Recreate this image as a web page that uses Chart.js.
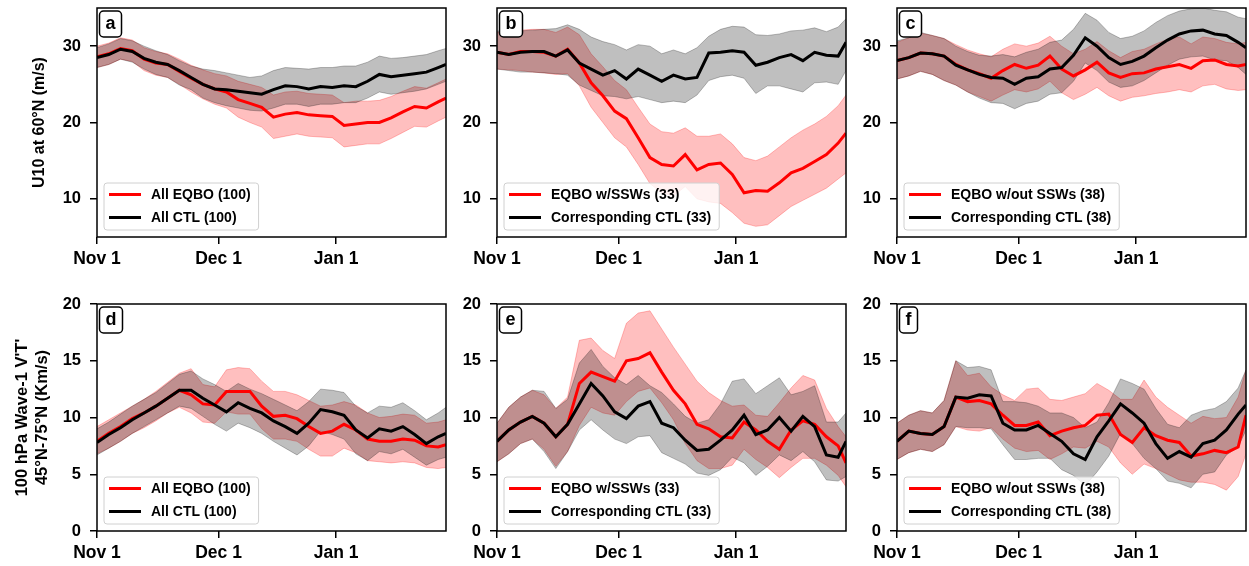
<!DOCTYPE html>
<html>
<head>
<meta charset="utf-8">
<script src="https://cdn.jsdelivr.net/npm/chart.js@4.4.1/dist/chart.umd.min.js"></script>
<style>
html, body { margin: 0; padding: 0; background: #fff; overflow: hidden; }
#fig { position: relative; width: 1249px; height: 566px; overflow: hidden; }
#fig canvas { position: absolute; }
</style>
</head>
<body>
<div id="fig"></div>
<script>
// day index from Nov 1
const days = [0,3,6,9,12,15,18,21,24,27,30,33,36,39,42,45,48,51,54,57,60,63,66,69,72,75,78,81,84,87,89];
const tickDays = [0, 31, 61];
const tickLabels = ['Nov 1', 'Dec 1', 'Jan 1'];

// a: U10, all members
const aEqbo   = [28.6,29.0,29.7,29.4,28.3,27.8,27.6,26.7,25.8,25.0,24.4,24.0,23.0,22.5,22.0,20.7,21.1,21.3,21.0,20.9,20.8,19.6,19.8,20.0,20.0,20.6,21.4,22.1,21.9,22.7,23.2];
const aEqboHi = [30.0,30.4,31.1,30.8,29.8,29.3,29.0,28.3,27.5,26.9,26.4,26.1,25.4,25.0,24.6,23.6,24.0,24.1,23.8,23.7,23.6,22.6,22.8,22.8,22.9,23.4,24.1,24.7,24.5,25.2,25.7];
const aEqboLo = [27.2,27.6,28.3,28.0,26.8,26.2,25.9,25.0,24.0,23.1,22.4,21.9,20.7,20.0,19.4,17.9,18.2,18.5,18.2,18.1,18.0,16.8,17.0,17.2,17.2,17.9,18.7,19.5,19.4,20.2,20.7];
const aCtl    = [28.5,28.9,29.6,29.3,28.4,27.9,27.6,26.8,25.9,25.0,24.4,24.3,24.1,23.9,23.7,24.3,24.8,24.7,24.4,24.7,24.6,24.8,24.7,25.4,26.3,26.0,26.2,26.4,26.6,27.2,27.6];
const aCtlHi  = [29.8,30.3,31.0,30.7,30.0,29.4,28.9,28.1,27.4,27.0,26.8,26.5,26.2,25.9,26.1,26.8,27.2,27.1,27.0,27.2,27.2,27.4,27.4,27.9,28.7,28.4,28.5,28.7,28.9,29.4,29.7];
const aCtlLo  = [27.2,27.6,28.3,27.9,27.0,26.3,25.9,24.9,24.3,23.2,22.6,22.2,21.9,21.6,21.5,21.9,22.4,22.4,22.1,22.4,22.4,22.6,22.6,23.2,24.0,23.7,23.9,24.1,24.4,25.0,25.4];

// b: U10, with SSWs
const bEqbo   = [29.2,28.9,29.3,29.3,29.2,28.7,29.6,27.8,25.2,23.5,21.5,20.5,18.0,15.4,14.5,14.3,15.8,13.8,14.5,14.7,13.2,10.8,11.1,11.0,12.1,13.4,14.0,14.9,15.8,17.3,18.6];
const bEqboHi = [31.8,32.0,32.1,32.2,32.2,31.8,32.5,31.5,29.0,27.3,25.5,24.3,22.0,19.8,18.8,18.6,19.3,18.2,18.2,18.5,17.2,15.4,15.0,15.6,16.8,18.0,19.0,19.8,20.8,22.2,23.6];
const bEqboLo = [27.0,26.9,26.8,26.6,26.5,26.3,26.4,24.8,22.0,20.0,18.0,16.8,14.5,12.0,10.8,10.4,11.6,10.0,9.6,9.4,8.2,6.8,6.4,6.6,7.8,9.0,9.8,10.6,11.4,12.6,13.4];
const bCtl    = [29.2,28.9,29.2,29.3,29.3,28.7,29.5,27.8,27.0,26.2,26.8,25.7,27.0,26.2,25.4,26.2,25.7,25.9,29.1,29.2,29.4,29.2,27.5,27.9,28.5,28.9,28.1,29.2,28.8,28.7,30.5];
const bCtlHi  = [32.0,32.0,32.0,32.1,32.2,32.3,32.8,32.2,31.2,30.6,30.2,29.5,30.2,30.0,29.0,29.5,29.0,29.8,31.3,32.2,32.6,32.5,31.5,31.4,31.6,32.0,32.1,32.4,31.9,32.5,33.6];
const bCtlLo  = [27.0,26.8,26.6,26.6,26.5,26.4,26.2,24.9,24.2,23.5,23.4,23.1,23.4,23.0,22.6,22.8,22.6,23.6,25.5,26.0,26.2,25.8,23.8,24.8,24.8,24.4,24.0,25.2,25.3,25.0,26.8];

// c: U10, without SSWs
const cEqbo   = [28.1,28.5,29.1,29.0,28.7,27.6,26.9,26.4,25.8,26.8,27.6,27.1,27.5,28.7,27.0,26.1,26.9,27.9,26.5,25.9,26.4,26.5,27.0,27.3,27.6,27.1,28.1,28.2,27.6,27.4,27.6];
const cEqboHi = [30.5,31.1,31.7,31.4,31.0,30.2,29.5,29.0,28.6,29.6,30.3,30.0,30.4,31.3,30.0,29.0,29.6,30.6,29.4,28.5,29.3,29.6,30.3,30.9,31.2,30.3,31.2,31.0,30.5,30.3,30.5];
const cEqboLo = [25.7,26.1,26.7,26.3,25.5,24.9,24.0,23.4,22.8,23.6,24.3,24.0,24.4,25.4,23.9,23.0,23.7,24.6,23.5,22.8,23.3,23.5,23.8,24.0,24.3,24.0,24.8,25.0,24.4,24.2,24.3];
const cCtl    = [28.1,28.5,29.1,29.0,28.7,27.5,26.9,26.3,25.9,25.8,25.0,25.8,26.0,27.0,27.2,28.8,31.1,30.0,28.5,27.6,28.0,28.7,29.8,30.8,31.6,32.0,32.1,31.6,31.4,30.5,29.8];
const cCtlHi  = [30.7,31.1,31.8,31.4,31.0,30.0,29.3,28.8,28.7,28.9,28.6,29.2,29.6,30.5,30.8,32.2,34.3,33.4,31.8,31.0,31.3,32.0,33.1,34.0,34.6,34.9,35.0,34.7,34.5,33.8,33.6];
const cCtlLo  = [25.7,26.1,26.7,26.3,25.5,24.9,24.0,23.2,22.6,22.5,21.8,22.5,22.8,23.7,23.9,25.4,27.8,26.8,25.3,24.6,24.8,25.5,26.5,27.5,28.3,28.6,28.7,28.2,28.1,27.2,26.3];

// d: wave-1 heat flux, all members
const dEqbo   = [7.9,8.6,9.2,9.9,10.4,11.0,11.7,12.4,12.0,11.2,11.1,12.3,12.3,12.3,11.0,10.1,10.2,9.9,9.2,8.6,8.8,9.4,8.9,8.1,7.9,7.9,8.1,8.0,7.5,7.4,7.6];
const dEqboHi = [9.2,9.8,10.4,11.0,11.6,12.3,13.1,13.9,14.3,12.9,12.7,14.2,14.4,14.3,13.2,12.3,12.3,12.0,11.5,11.0,11.1,11.4,11.1,10.4,10.0,10.1,10.3,10.2,9.5,9.6,9.8];
const dEqboLo = [6.8,7.3,7.9,8.6,9.1,9.7,10.4,10.9,10.4,9.6,9.5,10.5,10.3,10.3,9.0,8.1,8.1,7.9,7.2,6.6,6.6,7.3,6.9,6.2,6.1,6.0,6.1,6.0,5.6,5.5,5.6];
const dCtl    = [7.8,8.5,9.1,9.8,10.4,11.0,11.7,12.4,12.4,11.7,11.1,10.5,11.3,10.8,10.4,9.7,9.2,8.6,9.5,10.7,10.5,10.2,8.9,8.2,9.0,8.8,9.2,8.5,7.7,8.3,8.6];
const dCtlHi  = [9.0,9.6,10.3,11.0,11.6,12.2,13.0,13.8,14.1,13.4,12.9,12.3,13.0,12.5,12.1,11.6,11.1,10.6,11.4,12.5,12.4,12.2,11.0,10.4,11.0,10.9,11.3,10.6,9.8,10.4,10.9];
const dCtlLo  = [6.7,7.3,7.9,8.6,9.2,9.8,10.4,11.0,10.8,10.1,9.4,8.8,9.5,9.1,8.6,7.9,7.3,6.7,7.5,8.8,8.5,8.1,6.8,6.2,7.0,6.8,7.2,6.5,5.8,6.3,6.5];

// e: wave-1 heat flux, with SSWs
const eEqbo   = [7.9,8.9,9.6,10.1,9.5,8.3,9.4,13.0,14.0,13.6,13.2,15.0,15.2,15.7,14.0,12.4,11.2,9.4,9.0,8.3,8.2,9.6,8.9,7.9,7.2,8.9,9.7,9.4,8.3,7.5,6.0];
const eEqboHi = [9.5,10.9,11.8,12.4,12.0,10.8,11.8,16.8,17.0,15.9,15.2,18.3,19.2,19.4,17.8,16.2,14.7,13.2,12.2,11.5,11.0,11.1,10.2,10.1,11.3,12.6,13.7,13.3,10.8,9.2,8.3];
const eEqboLo = [6.1,6.8,7.7,8.1,7.2,5.7,7.0,9.3,10.9,10.4,10.2,11.4,12.3,12.6,11.3,9.8,7.7,6.2,5.5,5.5,5.8,7.2,6.3,5.6,4.7,5.6,6.4,6.4,5.8,4.9,3.9];
const eCtl    = [7.9,8.9,9.6,10.1,9.5,8.3,9.4,11.2,13.0,11.9,10.5,9.9,11.0,11.4,9.5,9.1,8.0,7.1,7.2,8.0,8.9,10.2,8.5,8.9,10.0,8.8,10.1,9.2,6.7,6.5,7.9];
const eCtlHi  = [9.5,10.9,11.8,12.4,12.3,10.8,11.6,14.8,16.0,14.5,13.5,12.9,13.7,12.8,12.2,11.2,10.1,9.5,9.8,11.2,13.2,13.4,12.1,12.8,13.5,12.0,12.3,12.8,9.6,9.6,10.4];
const eCtlLo  = [6.1,6.8,7.7,8.1,7.0,5.5,7.0,8.9,9.8,8.9,8.1,7.7,8.3,8.4,6.9,6.4,5.9,5.1,4.9,5.4,6.5,6.0,4.9,5.7,6.7,6.2,7.0,6.1,4.5,4.4,4.8];

// f: wave-1 heat flux, without SSWs
const fEqbo   = [7.9,8.8,8.6,8.5,9.2,11.8,11.4,11.5,11.2,10.2,9.3,9.3,9.6,8.4,8.8,9.1,9.3,10.2,10.3,8.5,7.8,9.1,8.4,8.0,7.8,6.6,6.8,7.1,6.9,7.4,10.2];
const fEqboHi = [9.5,10.2,10.6,10.4,11.5,15.0,13.7,13.9,12.7,12.0,11.5,12.5,12.6,11.6,11.5,11.8,12.1,13.0,12.4,11.6,11.6,13.3,11.8,10.9,10.2,9.5,10.1,9.9,10.0,11.8,14.2];
const fEqboLo = [6.3,6.9,7.2,7.0,7.6,9.2,8.9,8.8,9.1,8.1,7.3,7.0,7.1,6.3,6.8,7.4,7.3,7.9,7.4,6.0,5.0,5.9,5.5,5.0,4.5,4.3,4.3,4.1,3.6,4.8,6.8];
const fCtl    = [7.9,8.8,8.6,8.5,9.2,11.8,11.7,12.0,11.9,9.5,8.9,8.9,9.3,8.6,7.9,6.8,6.3,8.3,9.7,11.2,10.4,9.5,7.7,6.4,7.0,6.5,7.7,8.0,8.9,10.3,11.1];
const fCtlHi  = [9.5,10.2,10.6,10.4,11.5,15.0,14.4,14.5,14.2,11.4,11.4,11.3,11.0,10.4,10.4,10.0,9.1,9.6,11.3,13.4,13.0,12.5,10.8,9.4,9.1,10.2,10.6,10.8,11.4,12.6,14.2];
const fCtlLo  = [6.3,6.9,7.2,7.0,7.6,9.2,9.1,9.1,9.0,7.6,6.3,6.3,6.4,6.4,5.4,4.9,4.0,5.2,6.6,8.6,7.7,6.4,5.5,4.4,4.2,3.8,5.0,5.2,6.7,7.4,8.9];

const legendAll  = ['All EQBO (100)', 'All CTL (100)'];
const legendSSW  = ['EQBO w/SSWs (33)', 'Corresponding CTL (33)'];
const legendNoSSW = ['EQBO w/out SSWs (38)', 'Corresponding CTL (38)'];
const u10Ticks = [10, 20, 30];
const fluxTicks = [0, 5, 10, 15, 20];

const panels = [
  {letter: 'a', row: 0, col: 0, eqbo: [aEqbo, aEqboHi, aEqboLo], ctl: [aCtl, aCtlHi, aCtlLo], legend: legendAll},
  {letter: 'b', row: 0, col: 1, eqbo: [bEqbo, bEqboHi, bEqboLo], ctl: [bCtl, bCtlHi, bCtlLo], legend: legendSSW},
  {letter: 'c', row: 0, col: 2, eqbo: [cEqbo, cEqboHi, cEqboLo], ctl: [cCtl, cCtlHi, cCtlLo], legend: legendNoSSW},
  {letter: 'd', row: 1, col: 0, eqbo: [dEqbo, dEqboHi, dEqboLo], ctl: [dCtl, dCtlHi, dCtlLo], legend: legendAll},
  {letter: 'e', row: 1, col: 1, eqbo: [eEqbo, eEqboHi, eEqboLo], ctl: [eCtl, eCtlHi, eCtlLo], legend: legendSSW},
  {letter: 'f', row: 1, col: 2, eqbo: [fEqbo, fEqboHi, fEqboLo], ctl: [fCtl, fCtlHi, fCtlLo], legend: legendNoSSW}
];

// layout
const colLeft = [97, 497, 897];
const plotW = 349;
const rowTop = [8, 304];
const rowH = [229, 227];
const PAD_TOP = 30;
const FONT = "'Liberation Sans', Arial, sans-serif";

Chart.defaults.font.family = FONT;
Chart.defaults.font.weight = 'bold';
Chart.defaults.color = '#000';

function pts(arr) {
  return arr.map((v, i) => ({x: days[i], y: v}));
}

function roundRect(ctx, x, y, w, h, r) {
  ctx.beginPath();
  ctx.moveTo(x + r, y);
  ctx.lineTo(x + w - r, y);
  ctx.arcTo(x + w, y, x + w, y + r, r);
  ctx.lineTo(x + w, y + h - r);
  ctx.arcTo(x + w, y + h, x + w - r, y + h, r);
  ctx.lineTo(x + r, y + h);
  ctx.arcTo(x, y + h, x, y + h - r, r);
  ctx.lineTo(x, y + r);
  ctx.arcTo(x, y, x + r, y, r);
  ctx.closePath();
}

// frame, panel letter and legend box
const panelDeco = {
  id: 'panelDeco',
  afterDraw(chart, args, opts) {
    const ctx = chart.ctx;
    const a = chart.chartArea;
    ctx.save();
    ctx.strokeStyle = '#000';
    ctx.lineWidth = 1.5;
    ctx.strokeRect(a.left, a.top, a.right - a.left, a.bottom - a.top);

    // letter
    ctx.font = 'bold 18px ' + FONT;
    const lw = ctx.measureText(opts.letter).width;
    const bw = lw + 12, bx = a.left + 2.5, by = a.top + 3;
    roundRect(ctx, bx, by, bw, 26, 4);
    ctx.fillStyle = '#fff';
    ctx.fill();
    ctx.lineWidth = 1.5;
    ctx.strokeStyle = '#000';
    ctx.stroke();
    ctx.fillStyle = '#000';
    ctx.textAlign = 'center';
    ctx.textBaseline = 'middle';
    ctx.fillText(opts.letter, bx + bw / 2, by + 13);

    // legend
    ctx.font = 'bold 14px ' + FONT;
    const tw = Math.max(...opts.labels.map(t => ctx.measureText(t).width));
    const gx = a.left + 7, gh = 47, gy = a.bottom - 7 - gh, gw = 47 + tw + 8;
    roundRect(ctx, gx, gy, gw, gh, 3);
    ctx.fillStyle = 'rgba(255,255,255,0.8)';
    ctx.fill();
    ctx.strokeStyle = '#d0d0d0';
    ctx.lineWidth = 1;
    ctx.stroke();
    const cols = ['#ff0000', '#000000'];
    ctx.textAlign = 'left';
    opts.labels.forEach((t, i) => {
      const yy = gy + 11.5 + i * 23;
      ctx.strokeStyle = cols[i];
      ctx.lineWidth = 3;
      ctx.beginPath();
      ctx.moveTo(gx + 5, yy);
      ctx.lineTo(gx + 37, yy);
      ctx.stroke();
      ctx.fillStyle = '#000';
      ctx.fillText(t, gx + 47, yy + 1);
    });
    ctx.restore();
  }
};

const fig = document.getElementById('fig');

panels.forEach(p => {
  const L = colLeft[p.col], T = rowTop[p.row], H = rowH[p.row];
  const yw = p.col === 0 ? L : 60;
  const cv = document.createElement('canvas');
  cv.width = yw + plotW + 4;
  cv.height = PAD_TOP + H + 36;
  cv.style.left = (L - yw) + 'px';
  cv.style.top = (T - PAD_TOP) + 'px';
  fig.appendChild(cv);

  const redFill = 'rgba(255,0,0,0.25)';
  const grayFill = 'rgba(0,0,0,0.25)';
  const line = (d, color) => ({data: pts(d), borderColor: color, borderWidth: 3, pointRadius: 0, fill: false, tension: 0});
  const edge = (d, color, fill) => ({data: pts(d), borderColor: color, borderWidth: 1, backgroundColor: color, pointRadius: 0, fill: fill, tension: 0});

  let yTitle = {display: false};
  if (p.col === 0 && p.row === 0) {
    yTitle = {display: true, text: 'U10 at 60°N (m/s)', color: '#000',
      font: {size: 16, weight: 'bold'}, padding: {top: 30, bottom: 0}};
  } else if (p.col === 0) {
    yTitle = {display: true, text: ["100 hPa Wave-1 V'T'", '45°N-75°N (Km/s)'], color: '#000',
      font: {size: 16.5, weight: 'bold'}, padding: {top: 13, bottom: 0}};
  }
  const yTicks = p.row === 0 ? u10Ticks : fluxTicks;

  new Chart(cv.getContext('2d'), {
    type: 'line',
    data: {
      datasets: [
        line(p.ctl[0], '#000000'),
        line(p.eqbo[0], '#ff0000'),
        edge(p.ctl[1], grayFill, '+1'),
        edge(p.ctl[2], grayFill, false),
        edge(p.eqbo[1], redFill, '+1'),
        edge(p.eqbo[2], redFill, false)
      ]
    },
    options: {
      responsive: false,
      animation: false,
      devicePixelRatio: 1,
      layout: {padding: {left: 0, top: PAD_TOP, right: 4, bottom: 0}},
      plugins: {
        legend: {display: false},
        tooltip: {enabled: false},
        panelDeco: {letter: p.letter, labels: p.legend}
      },
      scales: {
        x: {
          type: 'linear',
          min: 0,
          max: 89,
          afterBuildTicks: s => { s.ticks = tickDays.map(v => ({value: v})); },
          afterFit: s => { s.height = 36; },
          ticks: {autoSkip: false, maxRotation: 0, padding: 5, color: '#000',
            font: {size: 17.5, weight: 'bold'},
            callback: (v, i) => tickLabels[i]},
          grid: {drawOnChartArea: false, drawTicks: true, tickLength: 7, color: '#000', lineWidth: 1.5},
          border: {display: false}
        },
        y: {
          min: p.row === 0 ? 5 : 0,
          max: p.row === 0 ? 35 : 20,
          afterBuildTicks: s => { s.ticks = yTicks.map(v => ({value: v})); },
          afterFit: s => { s.width = yw; },
          ticks: {padding: 9, color: '#000', font: {size: 16.5, weight: 'bold'}},
          grid: {drawOnChartArea: false, drawTicks: true, tickLength: 7, color: '#000', lineWidth: 1.5},
          border: {display: false},
          title: yTitle
        }
      }
    },
    plugins: [panelDeco]
  });
});
</script>
</body>
</html>
